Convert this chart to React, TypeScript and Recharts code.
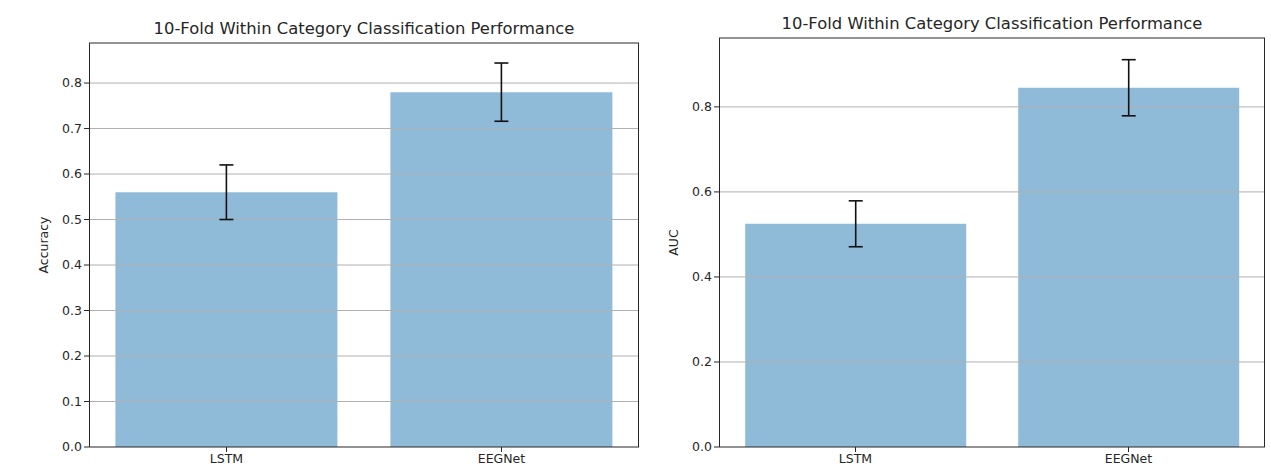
import { BarChart, Bar, XAxis, YAxis, ErrorBar, ReferenceLine } from "recharts";

const models = ["LSTM", "EEGNet"];
const accuracyMean = [0.56, 0.78];
const accuracyErr = [0.06, 0.064];
const aucMean = [0.525, 0.845];
const aucErr = [0.054, 0.066];
const accuracyTicks = [0, 0.1, 0.2, 0.3, 0.4, 0.5, 0.6, 0.7, 0.8];
const aucTicks = [0, 0.2, 0.4, 0.6, 0.8];

const title = "10-Fold Within Category Classification Performance";
const FONT = "'DejaVu Sans', sans-serif";
const INK = "#262626";

const accData = models.map((m, i) => ({ model: m, value: accuracyMean[i], err: accuracyErr[i] }));
const aucData = models.map((m, i) => ({ model: m, value: aucMean[i], err: aucErr[i] }));

interface PanelProps {
  data: { model: string; value: number; err: number }[];
  ticks: number[];
  yMax: number;
  yLabel: string;
  width: number;
  left: number;
  top: number;
  right: number;
  titleY: number;
}

function Panel({ data, ticks, yMax, yLabel, width, left, top, right, titleY }: PanelProps) {
  const tick = { fontSize: 12.5, fill: INK, fontFamily: FONT };
  return (
    <div style={{ position: "relative", width, height: 471 }}>
      <div
        style={{
          position: "absolute",
          left,
          width: width - right - left,
          top: titleY,
          textAlign: "center",
          fontFamily: FONT,
          fontSize: 16.4,
          color: INK,
          whiteSpace: "nowrap",
        }}
      >
        {title}
      </div>
      <BarChart
        width={width}
        height={471}
        data={data}
        margin={{ top, right, bottom: 0, left: left - 60 }}
        barCategoryGap="9.6%"
        barGap={-10000}
      >
        <XAxis
          dataKey="model"
          height={24}
          tick={tick}
          tickSize={5}
          tickLine={{ stroke: INK }}
          axisLine={false}
          interval={0}
        />
        <YAxis
          domain={[0, yMax]}
          ticks={ticks}
          type="number"
          allowDataOverflow
          width={60}
          tick={tick}
          tickSize={5}
          tickLine={{ stroke: INK }}
          axisLine={false}
          tickFormatter={(v: number) => v.toFixed(1)}
          label={{
            value: yLabel,
            angle: -90,
            position: "insideLeft",
            offset: 15,
            style: { textAnchor: "middle", fontSize: 12.5, fill: INK, fontFamily: FONT },
          }}
        />
        <Bar dataKey="value" fill="#1f77b4" fillOpacity={0.5} isAnimationActive={false} />
        {ticks
          .filter((t) => t > 0)
          .map((t) => (
            <ReferenceLine key={t} y={t} stroke="#b0b0b0" strokeWidth={1} />
          ))}
        <ReferenceLine y={0} stroke={INK} strokeWidth={1} />
        <ReferenceLine y={yMax} stroke={INK} strokeWidth={1} />
      </BarChart>
      <div style={{ position: "absolute", left: 0, top: 0, pointerEvents: "none" }}>
        <BarChart
          width={width}
          height={471}
          data={data}
          margin={{ top, right, bottom: 0, left: left - 60 }}
          barCategoryGap="9.6%"
        >
          <XAxis dataKey="model" height={24} tick={false} tickLine={false} axisLine={false} />
          <YAxis domain={[0, yMax]} type="number" allowDataOverflow width={60} tick={false} tickLine={false} axisLine={false} />
          <Bar dataKey="value" fill="none" isAnimationActive={false}>
            <ErrorBar dataKey="err" width={7} stroke="#111" strokeWidth={1.6} direction="y" />
          </Bar>
        </BarChart>
      </div>
      <div
        style={{
          position: "absolute",
          left,
          top,
          width: width - right - left,
          height: 471 - 24 - top,
          borderLeft: `1px solid ${INK}`,
          borderRight: `1px solid ${INK}`,
          boxSizing: "border-box",
          pointerEvents: "none",
        }}
      />
    </div>
  );
}

export default function App() {
  return (
    <div style={{ position: "absolute", left: 0, top: 0, width: 1271, height: 471, background: "#fff", display: "flex" }}>
      <Panel
        data={accData}
        ticks={accuracyTicks}
        yMax={0.888}
        yLabel="Accuracy"
        width={650}
        left={89}
        top={43}
        right={11}
        titleY={19}
      />
      <Panel
        data={aucData}
        ticks={aucTicks}
        yMax={0.962}
        yLabel="AUC"
        width={621}
        left={69}
        top={38}
        right={6}
        titleY={14}
      />
    </div>
  );
}
